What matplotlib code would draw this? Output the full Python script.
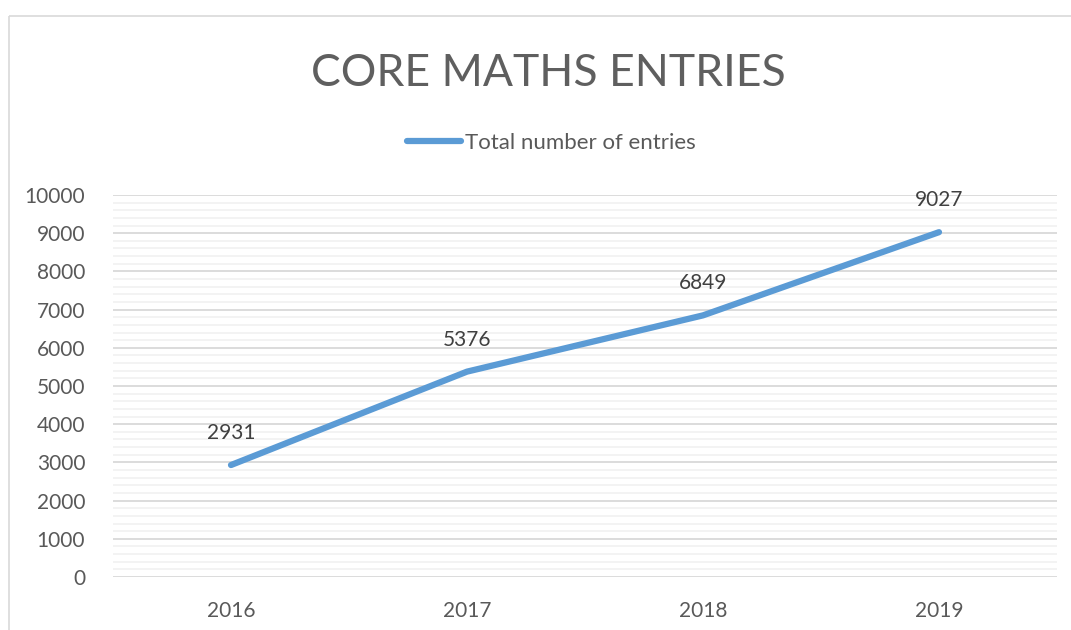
import matplotlib
matplotlib.use("Agg")
import matplotlib.pyplot as plt
from matplotlib.patches import Rectangle
from matplotlib.ticker import MultipleLocator

years = ["2016", "2017", "2018", "2019"]
entries = [2931, 5376, 6849, 9027]
series_name = "Total number of entries"
title = "CORE MATHS ENTRIES"

plt.rcParams['font.family'] = ['Lato', 'DejaVu Sans']
grey = "#595959"
blue = "#5B9BD5"

fig = plt.figure(figsize=(10.71, 6.30), dpi=100)
ax = fig.add_axes([113/1071, 1-577/630, (1057-113)/1071, (577-195)/630])

x = list(range(len(years)))
ax.plot(x, entries, color=blue, lw=4.5, solid_capstyle='round', label=series_name, zorder=3)
for xi, v in zip(x, entries):
    ax.annotate(str(v), (xi, v), xytext=(0, 23), textcoords='offset points',
                ha='center', va='center', fontsize=15, color="#404040")

ax.set_xlim(-0.5, len(years) - 0.5)
ax.set_ylim(0, 10000)
ax.set_xticks(x)
ax.set_xticklabels(years)
ax.yaxis.set_major_locator(MultipleLocator(1000))
ax.yaxis.set_minor_locator(MultipleLocator(200))
ax.grid(axis='y', which='major', color="#D9D9D9", lw=1.3, zorder=1)
ax.grid(axis='y', which='minor', color="#F2F2F2", lw=1.3, zorder=0)
ax.set_axisbelow(True)
for s in ax.spines.values():
    s.set_visible(False)
ax.tick_params(axis='both', which='both', length=0, labelsize=15, colors=grey)
ax.tick_params(axis='y', pad=20)
ax.tick_params(axis='x', pad=17)

fig.text(548/1071, 1-73/630, title, ha='center', va='center', fontsize=32,
         color="#5f5f5f", fontweight='normal')

leg = fig.legend(loc='center', bbox_to_anchor=(551/1071, 1-143/630), frameon=False,
                 fontsize=16, handlelength=2.45, handletextpad=0.15, labelcolor=grey)

border = Rectangle((9/1071, 1-16/630), 1.2, -1.2, transform=fig.transFigure,
                   fill=False, edgecolor="#D9D9D9", lw=1.2)
fig.patches.append(border)

fig.savefig("out.png", dpi=100)
